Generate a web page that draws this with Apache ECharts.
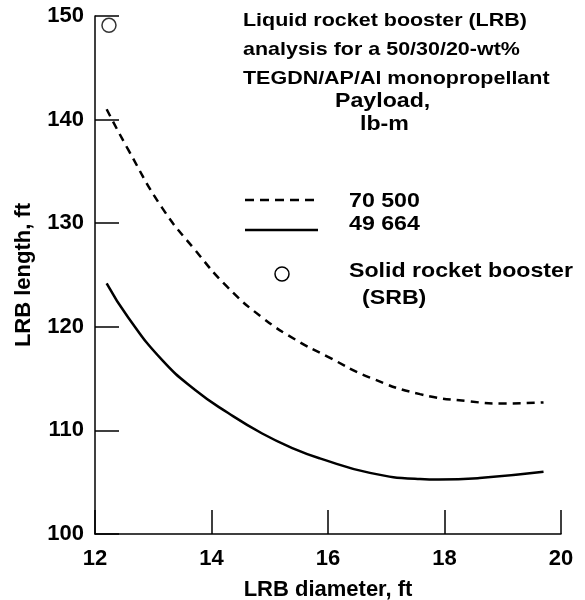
<!DOCTYPE html>
<html>
<head>
<meta charset="utf-8">
<script src="https://cdn.jsdelivr.net/npm/echarts@6/dist/echarts.min.js"></script>
<style>
  html, body { margin: 0; padding: 0; background: #fff; }
  #chart { width: 585px; height: 600px; }
</style>
</head>
<body>
<div id="chart"></div>
<script>
// LRB diameter, ft / LRB length, ft
const diam70500 = [12.2, 12.57, 13.15, 13.72, 14.28, 14.87, 15.43, 16.0, 16.72, 17.58, 18.44, 19.0, 19.7]
const len70500 = [141.0, 137.1, 131.5, 127.4, 123.8, 120.9, 118.8, 117.1, 115.1, 113.5, 112.8, 112.6, 112.7]
const diam49664 = [12.2, 12.57, 13.15, 13.72, 14.28, 14.87, 15.43, 15.86, 16.72, 17.58, 17.9, 18.6, 19.7]
const len49664 = [124.2, 120.9, 116.8, 113.9, 111.7, 109.7, 108.2, 107.3, 105.9, 105.3, 105.25, 105.4, 106.0]
// solid rocket booster point
const srb = [[12.24, 149.1]]

const fontFam = '"Liberation Sans", Arial, Helvetica, sans-serif'

function pairs (xs, ys) {
  return xs.map((x, i) => [x, ys[i]])
}

const chart = echarts.init(document.getElementById('chart'))

// annotation text, stretched a bit wider like the original lettering
const txt = (x, y, s, size) => ({
  type: 'text', x: x, y: y, scaleX: 1.13,
  style: { text: s, fill: '#000', font: 'bold ' + size + 'px ' + fontFam, verticalAlign: 'middle' }
})

chart.setOption({
  animation: false,
  grid: { left: 95, right: 24, top: 16, bottom: 66, outerBoundsMode: 'none' },
  xAxis: {
    type: 'value', min: 12, max: 20, interval: 2,
    name: 'LRB diameter, ft', nameLocation: 'middle', nameGap: 45,
    nameTextStyle: { color: '#000', fontSize: 22, fontWeight: 'bold', fontFamily: fontFam },
    axisLine: { lineStyle: { color: '#000', width: 1.5 } },
    axisTick: { inside: true, length: 24, lineStyle: { color: '#000', width: 1.5 } },
    axisLabel: { color: '#000', fontSize: 22, fontWeight: 'bold', fontFamily: fontFam, margin: 14 },
    splitLine: { show: false }
  },
  yAxis: {
    type: 'value', min: 100, max: 150, interval: 10,
    name: 'LRB length, ft', nameLocation: 'middle', nameGap: 60, nameRotate: 90,
    nameTextStyle: { color: '#000', fontSize: 22, fontWeight: 'bold', fontFamily: fontFam },
    axisLine: { lineStyle: { color: '#000', width: 1.5 } },
    axisTick: { inside: true, length: 24, lineStyle: { color: '#000', width: 1.5 } },
    axisLabel: { color: '#000', fontSize: 22, fontWeight: 'bold', fontFamily: fontFam, margin: 11, padding: [7, 0, 0, 0] },
    splitLine: { show: false }
  },
  series: [
    {
      name: '70 500', type: 'line', smooth: true, symbol: 'none',
      data: pairs(diam70500, len70500),
      lineStyle: { color: '#000', width: 2.5, type: [8, 6] }
    },
    {
      name: '49 664', type: 'line', smooth: true, symbol: 'none',
      data: pairs(diam49664, len49664),
      lineStyle: { color: '#000', width: 2.5 }
    },
    {
      name: 'SRB', type: 'scatter', symbol: 'circle', symbolSize: 14,
      data: srb,
      itemStyle: { color: '#fff', borderColor: '#000', borderWidth: 1.5 }
    }
  ],
  graphic: [
    txt(243, 21, 'Liquid rocket booster (LRB)', 19),
    txt(243, 50, 'analysis for a 50/30/20-wt%', 19),
    txt(243, 79, 'TEGDN/AP/Al monopropellant', 19),
    txt(335, 101, 'Payload,', 20.5),
    txt(360, 124, 'lb-m', 20.5),
    { type: 'line', shape: { x1: 245, y1: 200, x2: 318, y2: 200 }, style: { stroke: '#000', lineWidth: 2.5, lineDash: [9, 6] } },
    txt(349, 201, '70 500', 20.5),
    { type: 'line', shape: { x1: 245, y1: 230, x2: 318, y2: 230 }, style: { stroke: '#000', lineWidth: 2.5 } },
    txt(349, 224, '49 664', 20.5),
    { type: 'circle', shape: { cx: 282, cy: 274, r: 7 }, style: { fill: '#fff', stroke: '#000', lineWidth: 1.5 } },
    txt(349, 271, 'Solid rocket booster', 20.5),
    txt(362, 298, '(SRB)', 20.5)
  ]
})
</script>
</body>
</html>
